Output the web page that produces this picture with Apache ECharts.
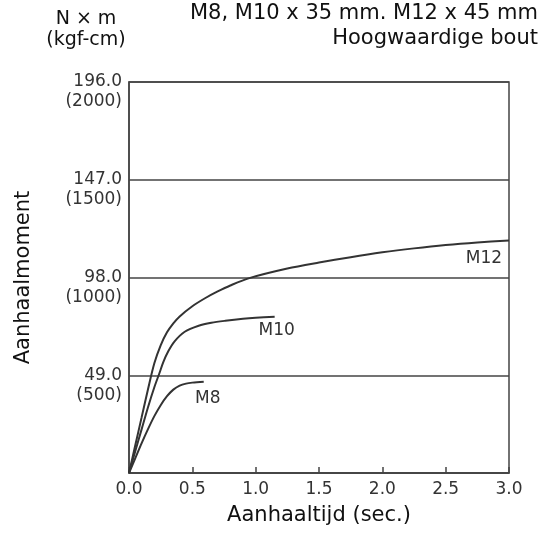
<!DOCTYPE html>
<html>
<head>
<meta charset="utf-8">
<script src="https://cdn.jsdelivr.net/npm/echarts@6/dist/echarts.min.js"></script>
<style>
  html, body { margin: 0; padding: 0; background: #fff; }
  #chart { width: 543px; height: 534px; }
</style>
</head>
<body>
<div id="chart"></div>
<script>
// tightening time (sec.) and torque (N x m)
const timeM12 = [0, 0.05, 0.1, 0.15, 0.2, 0.25, 0.3, 0.35, 0.4, 0.5, 0.6, 0.7, 0.8, 0.95, 1.25, 1.5, 1.75, 2.0, 2.25, 2.5, 2.75, 3.0];
const torqueM12 = [0, 14, 28, 42, 55, 64, 70.5, 75, 78.5, 83.6, 87.6, 91, 94, 97.7, 102.5, 105.5, 108.2, 110.6, 112.6, 114.3, 115.6, 116.6];

const timeM10 = [0, 0.05, 0.1, 0.15, 0.2, 0.24, 0.27, 0.31, 0.36, 0.44, 0.55, 0.65, 0.76, 0.9, 1.0, 1.15];
const torqueM10 = [0, 11, 22, 33, 43, 50, 55.5, 61, 66, 70.8, 73.8, 75.3, 76.3, 77.3, 77.8, 78.3];

const timeM8 = [0, 0.05, 0.1, 0.15, 0.2, 0.25, 0.3, 0.35, 0.4, 0.45, 0.5, 0.59];
const torqueM8 = [0, 7.5, 15, 22, 28.5, 34, 38.5, 41.8, 43.8, 44.8, 45.3, 45.8];

const xTickLabels = ['0.0', '0.5', '1.0', '1.5', '2.0', '2.5', '3.0'];
const yTickNm = ['', '49.0', '98.0', '147.0', '196.0'];
const yTickKgf = ['', '(500)', '(1000)', '(1500)', '(2000)'];

const zip = (xs, ys) => xs.map((x, i) => [x, ys[i]]);

const font = 'DejaVu Sans';
const lineColor = '#333';

const chart = echarts.init(document.getElementById('chart'));

const curve = (name, xs, ys, offset) => ({
    name: name,
    type: 'line',
    data: zip(xs, ys),
    smooth: 0.3,
    showSymbol: false,
    symbol: 'none',
    lineStyle: { color: lineColor, width: 2 },
    endLabel: {
        show: true,
        formatter: name,
        color: '#333',
        fontFamily: font,
        fontSize: 17,
        align: 'center',
        verticalAlign: 'middle',
        distance: 0,
        offset: offset
    }
});

chart.setOption({
    backgroundColor: '#fff',
    animation: false,
    title: [
        {
            text: 'M8, M10 x 35 mm. M12 x 45 mm\nHoogwaardige bout',
            left: 538,
            top: 1,
            padding: 0,
            textAlign: 'right',
            textStyle: {
                color: '#111',
                fontFamily: font,
                fontWeight: 'normal',
                fontSize: 21,
                lineHeight: 25
            }
        },
        {
            text: 'N × m\n(kgf-cm)',
            left: 86,
            top: 9,
            padding: 0,
            textAlign: 'center',
            textStyle: {
                color: '#111',
                fontFamily: font,
                fontWeight: 'normal',
                fontSize: 19,
                lineHeight: 21
            }
        }
    ],
    grid: {
        left: 129,
        right: 34,
        top: 82,
        bottom: 61,
        show: true,
        borderColor: '#444',
        borderWidth: 1.5,
        outerBoundsMode: 'none'
    },
    xAxis: {
        type: 'value',
        min: 0,
        max: 3,
        interval: 0.5,
        name: 'Aanhaaltijd (sec.)',
        nameLocation: 'middle',
        nameGap: 32,
        nameTextStyle: { color: '#111', fontFamily: font, fontSize: 21 },
        axisLine: { show: true, lineStyle: { color: '#444', width: 1.5 } },
        axisTick: { show: true, inside: true, length: 6, lineStyle: { color: '#444', width: 1.5 } },
        splitLine: { show: false },
        axisLabel: {
            color: '#333',
            fontFamily: font,
            fontSize: 17,
            margin: 8,
            formatter: (v) => xTickLabels[Math.round(v / 0.5)]
        }
    },
    yAxis: {
        type: 'value',
        min: 0,
        max: 196,
        interval: 49,
        name: 'Aanhaalmoment',
        nameLocation: 'middle',
        nameGap: 95,
        nameTextStyle: { color: '#111', fontFamily: font, fontSize: 21 },
        axisLine: { show: true, lineStyle: { color: '#444', width: 1.5 } },
        axisTick: { show: false },
        splitLine: { show: true, lineStyle: { color: '#444', width: 1.5 } },
        axisLabel: {
            color: '#333',
            fontFamily: font,
            fontSize: 17,
            lineHeight: 20,
            align: 'right',
            margin: 7,
            // blank first line keeps the N x m value level with its grid line
            formatter: (v) => {
                const i = Math.round(v / 49);
                return yTickNm[i] ? ' \n' + yTickNm[i] + '\n' + yTickKgf[i] : '';
            }
        }
    },
    series: [
        curve('M12', timeM12, torqueM12, [-25, 18]),
        curve('M10', timeM10, torqueM10, [2, 14]),
        curve('M8', timeM8, torqueM8, [4, 17])
    ]
});
</script>
</body>
</html>
